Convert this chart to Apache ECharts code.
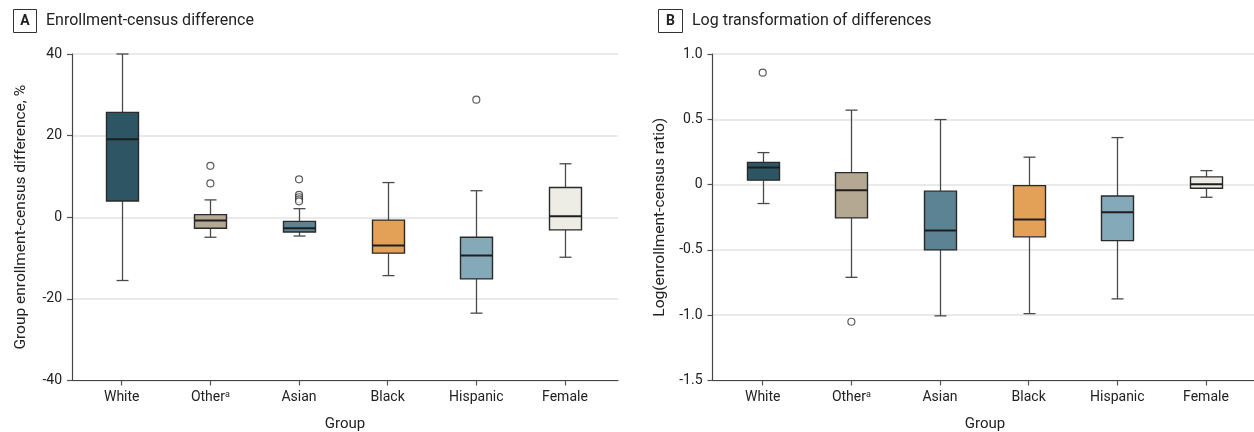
<!DOCTYPE html>
<html>
<head>
<meta charset="utf-8">
<script src="https://cdn.jsdelivr.net/npm/echarts@6/dist/echarts.min.js"></script>
<style>html,body{margin:0;padding:0;background:#fff}#c{width:1254px;height:432px}</style>
</head>
<body>
<div id="c"></div>
<script>
// ---- Data ----
const categories = ['White', 'Other', 'Asian', 'Black', 'Hispanic', 'Female'];
const boxColors = ['#2d5563', '#b5a893', '#5b8393', '#e3a157', '#84aab9', '#ededE5'];

// Panel A: enrollment-census difference, %
const diffMin    = [-15.5, -4.9, -4.6, -14.3, -23.5, -9.8];
const diffQ1     = [4.0, -2.7, -3.6, -8.8, -15.1, -3.1];
const diffMedian = [19.1, -0.8, -2.7, -6.9, -9.4, 0.25];
const diffQ3     = [25.7, 0.65, -1.0, -0.7, -4.9, 7.3];
const diffMax    = [40, 4.25, 2.1, 8.5, 6.5, 13.1];
const diffOutlierGroup = [1, 1, 2, 2, 2, 2, 2, 4];
const diffOutlierValue = [12.6, 8.3, 9.3, 5.5, 4.9, 4.4, 3.9, 28.8];
const diffTicks = [-40, -20, 0, 20, 40];
const diffTickLabels = ['-40', '-20', '0', '20', '40'];

// Panel B: log(enrollment-census ratio)
const logMin    = [-0.145, -0.71, -1.005, -0.988, -0.875, -0.097];
const logQ1     = [0.034, -0.255, -0.5, -0.40, -0.429, -0.028];
const logMedian = [0.13, -0.043, -0.352, -0.268, -0.212, 0.003];
const logQ3     = [0.17, 0.092, -0.05, -0.008, -0.087, 0.059];
const logMax    = [0.245, 0.57, 0.498, 0.21, 0.36, 0.107];
const logOutlierGroup = [0, 1];
const logOutlierValue = [0.857, -1.05];
const logTicks = [-1.5, -1.0, -0.5, 0, 0.5, 1.0];
const logTickLabels = ['-1.5', '-1.0', '-0.5', '0', '0.5', '1.0'];

// ---- Build ----
const FONT = 'Roboto, "Liberation Sans", sans-serif';
const TXT = '#222';

function boxRows(mn, q1, md, q3, mx) {
  return categories.map((c, i) => [i, mn[i], q1[i], md[i], q3[i], mx[i]]);
}
function outRows(g, v) { return g.map((gi, i) => [gi, v[i]]); }

function renderBox(params, api) {
  const x = api.value(0);
  const lo = api.coord([x, api.value(1)]);
  const q1 = api.coord([x, api.value(2)]);
  const md = api.coord([x, api.value(3)]);
  const q3 = api.coord([x, api.value(4)]);
  const hi = api.coord([x, api.value(5)]);
  const cx = Math.round(lo[0]) + 0.5;
  const hw = 16, cw = 6;
  const wStyle = { stroke: '#4a4a4a', lineWidth: 1.3 };
  return {
    type: 'group',
    children: [
      { type: 'line', shape: { x1: cx, y1: hi[1], x2: cx, y2: q3[1] }, style: wStyle },
      { type: 'line', shape: { x1: cx, y1: q1[1], x2: cx, y2: lo[1] }, style: wStyle },
      { type: 'line', shape: { x1: cx - cw, y1: hi[1], x2: cx + cw, y2: hi[1] }, style: wStyle },
      { type: 'line', shape: { x1: cx - cw, y1: lo[1], x2: cx + cw, y2: lo[1] }, style: wStyle },
      { type: 'rect', shape: { x: cx - hw, y: q3[1], width: 2 * hw, height: q1[1] - q3[1] },
        style: { fill: boxColors[params.dataIndex], stroke: '#2a2a2a', lineWidth: 1.4 } },
      { type: 'line', shape: { x1: cx - hw, y1: md[1], x2: cx + hw, y2: md[1] },
        style: { stroke: '#1e1e1e', lineWidth: 2 } }
    ]
  };
}

function labelFmt(ticks, labels) {
  return function (v) {
    for (let i = 0; i < ticks.length; i++) if (Math.abs(ticks[i] - v) < 1e-9) return labels[i];
    return '';
  };
}

const TOP = 54, H = 326.5;
const grids = [
  { left: 72, top: TOP, width: 546, height: H, outerBoundsMode: 'none', containLabel: false },
  { left: 77.4, top: TOP, width: 531.9, height: H, outerBoundsMode: 'none', containLabel: false },
  { left: 712.5, top: TOP, width: 545, height: H, outerBoundsMode: 'none', containLabel: false },
  { left: 718.4, top: TOP, width: 531.9, height: H, outerBoundsMode: 'none', containLabel: false }
];

function outerX(gi) {
  return {
    type: 'value', gridIndex: gi, min: 0, max: 1, position: 'bottom',
    axisLine: { show: true, onZero: false, lineStyle: { color: '#444', width: 1.2 } },
    axisTick: { show: false }, axisLabel: { show: false }, splitLine: { show: false },
    name: 'Group', nameLocation: 'middle', nameGap: 36,
    nameTextStyle: { fontFamily: FONT, fontSize: 15, color: TXT }
  };
}
function innerX(gi) {
  return {
    type: 'category', gridIndex: gi, data: categories, boundaryGap: true, position: 'bottom',
    axisLine: { show: false, onZero: false },
    axisTick: { show: true, alignWithLabel: true, interval: 0, length: 5, lineStyle: { color: '#555', width: 1.2 } },
    axisLabel: {
      interval: 0, margin: 10, fontFamily: FONT, fontSize: 14, color: TXT,
      formatter: v => v === 'Other' ? 'Other{sup|a}' : v,
      rich: { sup: { fontFamily: FONT, fontSize: 9, color: TXT, verticalAlign: 'top', lineHeight: 10 } }
    },
    splitLine: { show: false }
  };
}
function outerY(gi, min, max, interval, ticks, labels, name, gap) {
  return {
    type: 'value', gridIndex: gi, min, max, interval, position: 'left',
    axisLine: { show: true, onZero: false, lineStyle: { color: '#444', width: 1.2 } },
    axisTick: { show: true, length: 5, lineStyle: { color: '#555', width: 1.2 } },
    axisLabel: { margin: 10, fontFamily: FONT, fontSize: 14, color: TXT, formatter: labelFmt(ticks, labels) },
    splitLine: { show: true, lineStyle: { color: '#e3e3e3', width: 1.5 } },
    name, nameLocation: 'middle', nameGap: gap,
    nameTextStyle: { fontFamily: FONT, fontSize: 15.5, color: TXT }
  };
}
function innerY(gi, min, max) {
  return { type: 'value', gridIndex: gi, min, max, show: false, splitLine: { show: false } };
}

const outlierStyle = { color: '#fff', borderColor: '#333', borderWidth: 1.2 };

const option = {
  animation: false,
  backgroundColor: '#fff',
  grid: grids,
  xAxis: [outerX(0), innerX(1), outerX(2), innerX(3)],
  yAxis: [
    outerY(0, -40, 40, 20, diffTicks, diffTickLabels, 'Group enrollment-census difference, %', 43),
    innerY(1, -40, 40),
    outerY(2, -1.5, 1.0, 0.5, logTicks, logTickLabels, 'Log(enrollment-census ratio)', 44),
    innerY(3, -1.5, 1.0)
  ],
  series: [
    { type: 'custom', xAxisIndex: 1, yAxisIndex: 1, renderItem: renderBox,
      encode: { x: 0, y: [1, 2, 3, 4, 5] },
      data: boxRows(diffMin, diffQ1, diffMedian, diffQ3, diffMax), z: 3 },
    { type: 'scatter', xAxisIndex: 1, yAxisIndex: 1, symbol: 'circle', symbolSize: 7,
      itemStyle: outlierStyle, data: outRows(diffOutlierGroup, diffOutlierValue), z: 4 },
    { type: 'custom', xAxisIndex: 3, yAxisIndex: 3, renderItem: renderBox,
      encode: { x: 0, y: [1, 2, 3, 4, 5] },
      data: boxRows(logMin, logQ1, logMedian, logQ3, logMax), z: 3 },
    { type: 'scatter', xAxisIndex: 3, yAxisIndex: 3, symbol: 'circle', symbolSize: 7,
      itemStyle: outlierStyle, data: outRows(logOutlierGroup, logOutlierValue), z: 4 }
  ],
  graphic: [
    { type: 'rect', shape: { x: 13.5, y: 9.5, width: 23, height: 23 },
      style: { fill: '#fff', stroke: '#333', lineWidth: 1 } },
    { type: 'text', style: { text: 'A', x: 25, y: 21.5, align: 'center', verticalAlign: 'middle',
      font: 'bold 14px ' + FONT, fill: TXT } },
    { type: 'text', style: { text: 'Enrollment-census difference', x: 46, y: 21, verticalAlign: 'middle',
      font: '16px ' + FONT, fill: TXT } },
    { type: 'rect', shape: { x: 658.5, y: 9.5, width: 24, height: 23 },
      style: { fill: '#fff', stroke: '#333', lineWidth: 1 } },
    { type: 'text', style: { text: 'B', x: 670.5, y: 21.5, align: 'center', verticalAlign: 'middle',
      font: 'bold 14px ' + FONT, fill: TXT } },
    { type: 'text', style: { text: 'Log transformation of differences', x: 692, y: 21, verticalAlign: 'middle',
      font: '16px ' + FONT, fill: TXT } }
  ]
};

const chart = echarts.init(document.getElementById('c'), null, { renderer: 'canvas' });
chart.setOption(option);
</script>
</body>
</html>
